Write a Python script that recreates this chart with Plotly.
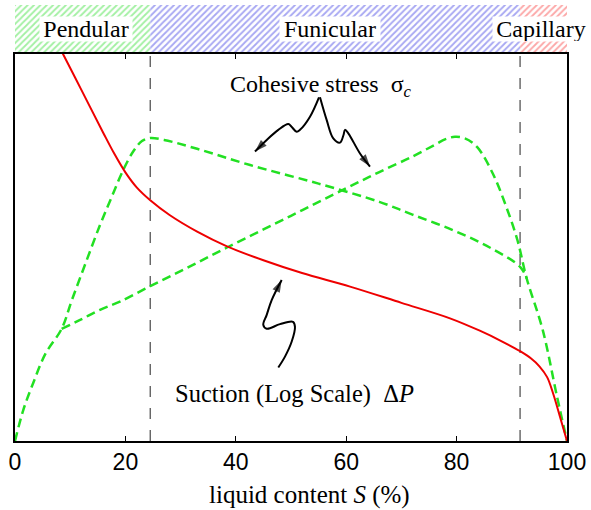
import plotly.graph_objects as go

# Suction (log scale) against liquid content S (%)
suction_s = [8.2, 8.7, 12.0, 16.0, 18.0, 20.0, 22.0, 24.5, 28.0, 33.0, 38.4, 45.0, 52.0,
             60.7, 70.0, 78.8, 84.2, 88.0, 91.5, 93.5, 95.0, 96.4, 97.5, 98.7, 100]
suction_y = [1.014, 1.000, 0.908, 0.796, 0.742, 0.694, 0.656, 0.622, 0.584, 0.541, 0.503,
             0.467, 0.434, 0.399, 0.357, 0.317, 0.285, 0.259, 0.232, 0.213, 0.193, 0.165,
             0.122, 0.064, 0.0]

# Cohesive stress, branch peaking at the pendular/funicular boundary
stress_a_s = [0, 1.5, 3.3, 5.5, 8.45, 10.3, 12.8, 15.4, 17.5, 19.6, 21.5, 23, 24.5, 27, 33,
              42.6, 55, 66, 72, 79.3, 86, 91.5, 92.7]
stress_a_y = [0, 0.08, 0.15, 0.225, 0.29, 0.364, 0.46, 0.558, 0.63, 0.70, 0.75, 0.775, 0.783,
              0.778, 0.755, 0.713, 0.665, 0.618, 0.585, 0.545, 0.50, 0.45, 0.42]

# Cohesive stress, branch peaking in the funicular regime
stress_b_s = [8.45, 11.8, 15.4, 19, 24.5, 31, 38.4, 50, 60, 66, 72, 76, 78, 79.7, 81.5, 83.7,
              86.6, 89, 91, 92.7, 95.6, 98.2, 100]
stress_b_y = [0.29, 0.313, 0.339, 0.36, 0.40, 0.446, 0.50, 0.582, 0.653, 0.695, 0.735, 0.765,
              0.78, 0.786, 0.782, 0.76, 0.69, 0.605, 0.52, 0.42, 0.287, 0.114, 0]

# Regime boundaries and names
regime_bounds = [0, 24.5, 91.5, 100]
regime_names = ["Pendular", "Funicular", "Capillary"]
regime_label_s = [12.9, 57.0, 95.2]
regime_label_w = [92, 100, 96]
regime_colors = ["rgb(70,225,70)", "rgb(80,80,230)", "rgb(250,80,80)"]

# Hand-drawn pointer squiggles (S, y); the last point is the arrow tip
left_arrow_s = [55.07, 53.44, 51.63, 51.03, 50.1, 49.51, 47.70, 45.60, 43.48]
left_arrow_y = [0.888, 0.838, 0.804, 0.799, 0.812, 0.819, 0.804, 0.778, 0.748]
right_arrow_s = [55.25, 56.47, 57.66, 58.88, 59.5, 59.78, 60.38, 62.50, 64.31]
right_arrow_y = [0.888, 0.829, 0.782, 0.771, 0.79, 0.804, 0.795, 0.743, 0.709]
suction_arrow_s = [47.70, 48.91, 50.13, 50.72, 50.36, 48.0, 45.6, 44.98, 45.6, 46.5, 48.31]
suction_arrow_y = [0.190, 0.218, 0.257, 0.295, 0.308, 0.302, 0.290, 0.300, 0.326, 0.364, 0.416]

serif = "Liberation Serif"
sans = "Liberation Sans"
green = "#22e022"

fig = go.Figure()

# Hatched regime band above the plot
fig.add_trace(go.Bar(
    y=[0, 0, 0],
    x=[regime_bounds[i + 1] - regime_bounds[i] for i in range(3)],
    base=regime_bounds[:3],
    orientation="h",
    width=1,
    xaxis="x2", yaxis="y2",
    marker=dict(color="white", line=dict(width=0),
                pattern=dict(shape="/", size=4.5, solidity=0.4,
                             fgcolor=regime_colors, bgcolor="white")),
    showlegend=False, hoverinfo="skip",
))

# Regime boundary lines
for b in regime_bounds[1:3]:
    fig.add_trace(go.Scatter(
        x=[b, b], y=[0, 1], mode="lines",
        line=dict(color="#555555", width=1.3, dash="11px,11px"),
        showlegend=False, hoverinfo="skip",
    ))

fig.add_trace(go.Scatter(
    x=stress_a_s, y=stress_a_y, mode="lines", line_shape="spline",
    line=dict(color=green, width=2.5, dash="9px,5px"), showlegend=False,
))
fig.add_trace(go.Scatter(
    x=stress_b_s, y=stress_b_y, mode="lines", line_shape="spline",
    line=dict(color=green, width=2.5, dash="9px,5px"), showlegend=False,
))
fig.add_trace(go.Scatter(
    x=suction_s, y=suction_y, mode="lines", line_shape="spline",
    line=dict(color="#ee0000", width=2), showlegend=False,
))

# Pointer squiggles, with an arrow head oriented along the last segment
for xs, ys in [(left_arrow_s, left_arrow_y), (right_arrow_s, right_arrow_y),
               (suction_arrow_s, suction_arrow_y)]:
    fig.add_trace(go.Scatter(
        x=xs, y=ys, mode="lines", line_shape="spline",
        line=dict(color="black", width=2), showlegend=False, hoverinfo="skip",
    ))
    fig.add_trace(go.Scatter(
        x=xs[-2:], y=ys[-2:], mode="markers",
        marker=dict(symbol="arrow", size=[0, 13], color="black",
                    angleref="previous", line=dict(width=0)),
        showlegend=False, hoverinfo="skip",
    ))

annotations = [
    dict(x=55.5, y=0.917, xref="x", yref="y", showarrow=False,
         text="Cohesive stress  σ<sub><i>c</i></sub>",
         font=dict(family=serif, size=24, color="black")),
    dict(x=50.6, y=0.121, xref="x", yref="y", showarrow=False,
         text="Suction (Log Scale)  Δ<i>P</i>",
         font=dict(family=serif, size=24.5, color="black")),
    dict(x=0.534, y=-0.124, xref="paper", yref="paper", showarrow=False,
         yanchor="middle", text="liquid content <i>S</i> (%)",
         font=dict(family=serif, size=25, color="black")),
]

for name, s, w in zip(regime_names, regime_label_s, regime_label_w):
    annotations.append(dict(
        x=s, y=0, xref="x2", yref="y2", showarrow=False, text=name,
        bgcolor="white", borderpad=0, width=w, height=24,
        font=dict(family=serif, size=24, color="black"),
    ))

fig.update_layout(
    width=591, height=510,
    margin=dict(l=15, r=24, t=5, b=69),
    paper_bgcolor="white", plot_bgcolor="white",
    barmode="overlay",
    annotations=annotations,
    xaxis=dict(
        range=[0, 100], tickvals=[0, 20, 40, 60, 80, 100],
        ticks="inside", ticklen=5, tickwidth=1, tickcolor="black",
        showline=True, linecolor="black", linewidth=1.5, mirror="ticks",
        showgrid=False, zeroline=False, anchor="y",
        tickfont=dict(family=sans, size=23, color="black"),
    ),
    yaxis=dict(
        range=[0, 1], domain=[0, 387 / 436],
        showticklabels=False, ticks="",
        showline=True, linecolor="black", linewidth=1.5, mirror=True,
        showgrid=False, zeroline=False,
    ),
    xaxis2=dict(range=[0, 100], anchor="y2", visible=False, matches="x"),
    yaxis2=dict(range=[-0.5, 0.5], domain=[0.8922, 1.0], visible=False),
)

fig.write_html("out.html")
